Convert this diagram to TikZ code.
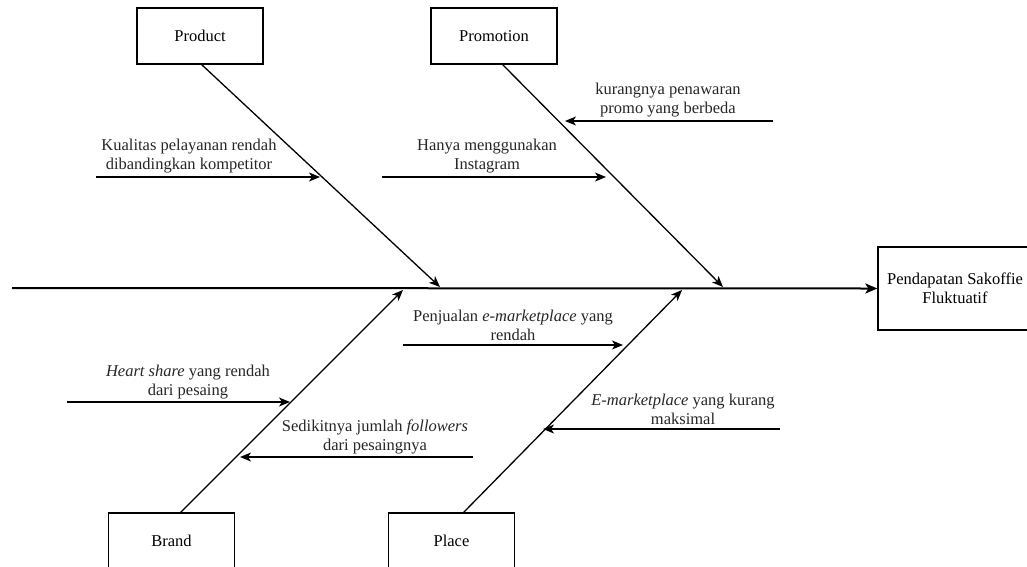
\documentclass[tikz,border=0pt]{standalone}
\usepackage{fontspec}
\setmainfont{Liberation Serif}
\usetikzlibrary{arrows.meta}
\begin{document}
\begin{tikzpicture}[x=1pt,y=-1pt,
  font=\fontsize{16.5}{19}\selectfont,
  catbox/.style={draw, line width=1.3pt, minimum width=126pt, minimum height=56pt, inner sep=0pt},
  lbl/.style={align=center, inner sep=0pt, text=black!85},
  bone/.style={line width=1.3pt, -{Stealth[length=11pt,width=9pt,inset=3pt]}},
  twig/.style={line width=1.4pt, -{Stealth[length=11pt,width=9pt,inset=3pt]}},
  spine/.style={line width=2pt, -{Stealth[length=12pt,width=10pt,inset=3pt]}}]
\useasboundingbox (0,0) rectangle (1027,566);
% category boxes
\node[catbox] (prod) at (200,36) {Product};
\node[catbox] (promo) at (494,36) {Promotion};
\node[catbox] (brand) at (171.5,541) {Brand};
\node[catbox] (place) at (451.5,541) {Place};
\node[draw, line width=1.3pt, minimum width=154pt, minimum height=83pt, inner sep=0pt, align=center] (effect) at (955,288.5) {Pendapatan Sakoffie\\Fluktuatif};
% spine
\coordinate (s0) at (12,288);
\draw[spine] (s0) -- (effect.west);
% bones
\coordinate (pr0) at (201,64);
\coordinate (pr1) at (440,287);
\coordinate (pm0) at (502,64);
\coordinate (pm1) at (723,287);
\coordinate (br0) at (180,513);
\coordinate (br1) at (403,290);
\coordinate (pl0) at (463,513);
\coordinate (pl1) at (682,290);
\draw[bone] (pr0) -- (pr1);
\draw[bone] (pm0) -- (pm1);
\draw[bone] (br0) -- (br1);
\draw[bone] (pl0) -- (pl1);
% labels
\node[lbl] (t1) at (189,156) {Kualitas pelayanan rendah\\dibandingkan kompetitor};
\node[lbl] (t2) at (487,156) {Hanya menggunakan\\Instagram};
\node[lbl] (t3) at (668,100) {kurangnya penawaran\\promo yang berbeda};
\node[lbl] (t4) at (513,325) {Penjualan \textit{e-marketplace} yang\\rendah};
\node[lbl] (t5) at (188,382) {\textit{Heart share} yang rendah\\dari pesaing};
\node[lbl] (t6) at (375,437) {Sedikitnya jumlah \textit{followers}\\dari pesaingnya};
\node[lbl] (t7) at (683,409) {\textit{E-marketplace} yang kurang\\maksimal};
% twig arrows
\coordinate (a1s) at (96,177);  \coordinate (a1e) at (320,177);
\coordinate (a2s) at (382,177); \coordinate (a2e) at (606,177);
\coordinate (a3s) at (773,121); \coordinate (a3e) at (565,121);
\coordinate (a4s) at (403,345); \coordinate (a4e) at (623,345);
\coordinate (a5s) at (67,402);  \coordinate (a5e) at (290,402);
\coordinate (a6s) at (473,457); \coordinate (a6e) at (240,457);
\coordinate (a7s) at (780,429); \coordinate (a7e) at (543,429);
\draw[twig] (a1s) -- (a1e);
\draw[twig] (a2s) -- (a2e);
\draw[twig] (a3s) -- (a3e);
\draw[twig] (a4s) -- (a4e);
\draw[twig] (a5s) -- (a5e);
\draw[twig] (a6s) -- (a6e);
\draw[twig] (a7s) -- (a7e);
\end{tikzpicture}
\end{document}
